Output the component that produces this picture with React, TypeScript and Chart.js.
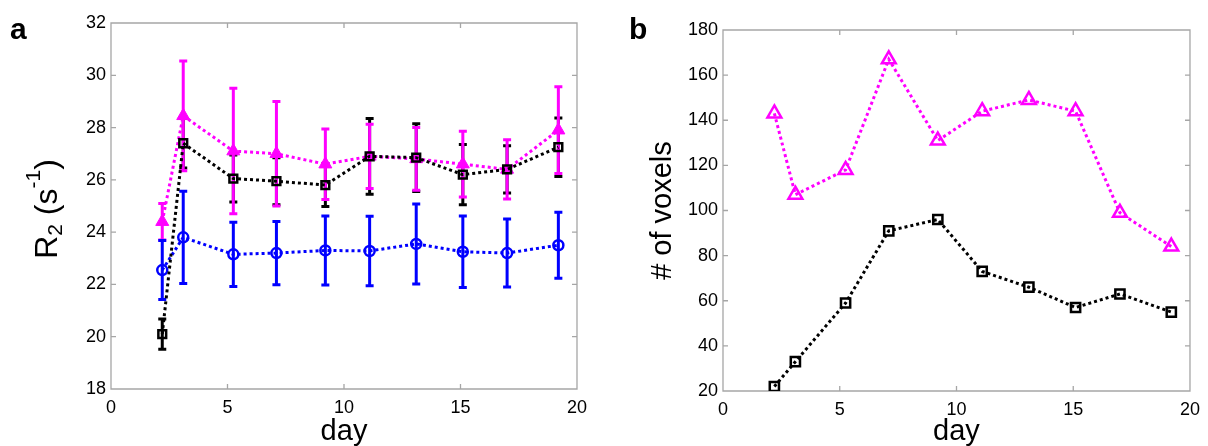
import React, { useEffect, useRef } from 'react';
import { Chart, registerables } from 'chart.js';

Chart.register(...registerables);

// ---------- data ----------
const days = [2.2, 3.1, 5.25, 7.1, 9.2, 11.1, 13.1, 15.1, 17.0, 19.2];

// panel a: R2 (s^-1)
const r2Magenta = [24.4, 28.45, 27.1, 27.0, 26.6, 26.9, 26.8, 26.6, 26.4, 27.9];
const r2MagentaErr = [0.7, 2.1, 2.4, 2.0, 1.35, 1.23, 1.2, 1.26, 1.13, 1.66];
const r2Black = [20.1, 27.4, 26.05, 25.95, 25.8, 26.9, 26.85, 26.2, 26.4, 27.25];
const r2BlackErr = [0.58, 0.95, 0.9, 0.9, 0.82, 1.45, 1.3, 1.15, 0.9, 1.12];
const r2Blue = [22.55, 23.8, 23.15, 23.2, 23.3, 23.28, 23.55, 23.25, 23.2, 23.5];
const r2BlueErr = [1.13, 1.76, 1.23, 1.21, 1.32, 1.33, 1.53, 1.37, 1.3, 1.26];

// panel b: # of voxels
const voxMagenta = [143, 107, 118, 167, 131, 144, 149, 144, 99, 84];
const voxBlack = [22, 33, 59, 91, 96, 73, 66, 57, 63, 55];

// ticks
const dayTicks = [0, 5, 10, 15, 20];
const r2Ticks = [18, 20, 22, 24, 26, 28, 30, 32];
const voxTicks = [20, 40, 60, 80, 100, 120, 140, 160, 180];

// ---------- styling ----------
const FONT = '"Liberation Sans", Arial, Helvetica, sans-serif';
const MAGENTA = '#ff00ff';
const BLUE = '#0000ff';
const BLACK = '#000000';

const pts = (ys: number[]) => ys.map((y, i) => ({ x: days[i], y }));

const boxTicksPlugin = {
  id: 'boxTicks',
  beforeDatasetsDraw(chart: any) {
    const { ctx, chartArea: a, scales } = chart;
    const len = 5;
    ctx.save();
    ctx.strokeStyle = '#a6a6a6';
    ctx.lineWidth = 1.3;
    ctx.beginPath();
    ctx.rect(a.left, a.top, a.right - a.left, a.bottom - a.top);
    scales.x.ticks.forEach((t: any) => {
      const px = scales.x.getPixelForValue(t.value);
      if (px <= a.left + 1 || px >= a.right - 1) return;
      ctx.moveTo(px, a.bottom);
      ctx.lineTo(px, a.bottom - len);
      ctx.moveTo(px, a.top);
      ctx.lineTo(px, a.top + len);
    });
    scales.y.ticks.forEach((t: any) => {
      const py = scales.y.getPixelForValue(t.value);
      if (py <= a.top + 1 || py >= a.bottom - 1) return;
      ctx.moveTo(a.left, py);
      ctx.lineTo(a.left + len, py);
      ctx.moveTo(a.right, py);
      ctx.lineTo(a.right - len, py);
    });
    ctx.stroke();
    ctx.restore();
  },
};

// error bars of all datasets, drawn under the lines, in the order given by errLayer
const errorBarPlugin = {
  id: 'errorBars',
  beforeDatasetsDraw(chart: any) {
    const yS = chart.scales.y;
    const ctx = chart.ctx;
    const list = chart.data.datasets
      .map((ds: any, i: number) => ({ ds, i }))
      .filter((o: any) => o.ds.errors)
      .sort((p: any, q: any) => (p.ds.errLayer || 0) - (q.ds.errLayer || 0));
    list.forEach(({ ds, i }: any) => {
      const meta = chart.getDatasetMeta(i);
      ctx.save();
      ctx.strokeStyle = ds.borderColor;
      ctx.lineWidth = 3;
      ctx.lineCap = 'butt';
      meta.data.forEach((el: any, k: number) => {
        const v = ds.data[k].y;
        const e = ds.errors[k];
        const top = yS.getPixelForValue(v + e);
        const bot = yS.getPixelForValue(v - e);
        ctx.beginPath();
        ctx.moveTo(el.x, top);
        ctx.lineTo(el.x, bot);
        ctx.moveTo(el.x - 4, top);
        ctx.lineTo(el.x + 4, top);
        ctx.moveTo(el.x - 4, bot);
        ctx.lineTo(el.x + 4, bot);
        ctx.stroke();
      });
      ctx.restore();
    });
  },
};

const panelLabelPlugin = {
  id: 'panelLabel',
  afterDraw(chart: any, _args: any, opts: any) {
    if (!opts || !opts.text) return;
    const ctx = chart.ctx;
    ctx.save();
    ctx.fillStyle = '#000';
    ctx.font = `bold 30px ${FONT}`;
    ctx.textAlign = 'left';
    ctx.textBaseline = 'alphabetic';
    ctx.fillText(opts.text, opts.x, opts.y);
    ctx.restore();
  },
};

// y-axis title with subscript / superscript: R₂ (s⁻¹)
const r2TitlePlugin = {
  id: 'r2Title',
  afterDraw(chart: any, _args: any, opts: any) {
    if (!opts || !opts.show) return;
    const ctx = chart.ctx;
    const a = chart.chartArea;
    const big = 32;
    const small = 21;
    const parts = [
      { t: 'R', s: big, dy: 0 },
      { t: '2', s: small, dy: 5 },
      { t: ' (s', s: big, dy: 0 },
      { t: '-1', s: small, dy: -17 },
      { t: ')', s: big, dy: 0 },
    ];
    ctx.save();
    ctx.fillStyle = '#000';
    ctx.textBaseline = 'alphabetic';
    ctx.textAlign = 'left';
    let total = 0;
    parts.forEach((p) => {
      ctx.font = `${p.s}px ${FONT}`;
      total += ctx.measureText(p.t).width;
    });
    ctx.translate(opts.x, (a.top + a.bottom) / 2 + 3);
    ctx.rotate(-Math.PI / 2);
    let cx = -total / 2;
    parts.forEach((p) => {
      ctx.font = `${p.s}px ${FONT}`;
      ctx.fillText(p.t, cx, p.dy);
      cx += ctx.measureText(p.t).width;
    });
    ctx.restore();
  },
};

function baseOptions(p: {
  yMin: number;
  yMax: number;
  yTicks: number[];
  yWidth: number;
  xHeight: number;
  padding: any;
  yTitle?: any;
  label: any;
  r2: boolean;
}) {
  return {
    responsive: false,
    animation: false,
    events: [],
    layout: { padding: p.padding },
    plugins: {
      legend: { display: false },
      tooltip: { enabled: false },
      panelLabel: p.label,
      r2Title: { show: p.r2, x: 57 },
    },
    scales: {
      x: {
        type: 'linear',
        min: 0,
        max: 20,
        afterBuildTicks: (s: any) => {
          s.ticks = dayTicks.map((v) => ({ value: v }));
        },
        afterFit: (s: any) => {
          s.height = p.xHeight;
        },
        grid: { display: false, drawTicks: false },
        border: { display: false },
        ticks: {
          padding: 8,
          color: '#000',
          font: { family: FONT, size: 18 },
          maxRotation: 0,
          autoSkip: false,
        },
        title: {
          display: true,
          text: 'day',
          color: '#000',
          font: { family: FONT, size: 29 },
          padding: { top: 0, bottom: -3 },
        },
      },
      y: {
        type: 'linear',
        min: p.yMin,
        max: p.yMax,
        afterBuildTicks: (s: any) => {
          s.ticks = p.yTicks.map((v) => ({ value: v }));
        },
        afterFit: (s: any) => {
          s.width = p.yWidth;
        },
        grid: { display: false, drawTicks: false },
        border: { display: false },
        ticks: {
          padding: 5,
          color: '#000',
          font: { family: FONT, size: 18 },
          autoSkip: false,
        },
        title: p.yTitle || { display: false },
      },
    },
  } as any;
}

export default function App() {
  const refA = useRef<HTMLCanvasElement>(null);
  const refB = useRef<HTMLCanvasElement>(null);

  useEffect(() => {
    const chartA = new Chart(refA.current as HTMLCanvasElement, {
      type: 'line',
      data: {
        datasets: [
          {
            data: pts(r2Black),
            errors: r2BlackErr,
            errLayer: 0,
            borderColor: BLACK,
            backgroundColor: 'rgba(0,0,0,0)',
            borderWidth: 3,
            borderDash: [3, 3],
            pointStyle: 'rect',
            pointRadius: 5.5,
            pointBorderWidth: 2.5,
            pointBorderColor: BLACK,
            pointBackgroundColor: 'rgba(0,0,0,0)',
          },
          {
            data: pts(r2Magenta),
            errors: r2MagentaErr,
            errLayer: 1,
            borderColor: MAGENTA,
            backgroundColor: MAGENTA,
            borderWidth: 3,
            borderDash: [3, 3],
            pointStyle: 'triangle',
            pointRadius: 7.5,
            pointBorderWidth: 1,
            pointBorderColor: MAGENTA,
            pointBackgroundColor: MAGENTA,
          },
          {
            data: pts(r2Blue),
            errors: r2BlueErr,
            errLayer: 2,
            borderColor: BLUE,
            backgroundColor: 'rgba(0,0,0,0)',
            borderWidth: 3,
            borderDash: [3, 3],
            pointStyle: 'circle',
            pointRadius: 5,
            pointBorderWidth: 2.5,
            pointBorderColor: BLUE,
            pointBackgroundColor: 'rgba(0,0,0,0)',
          },
        ] as any,
      },
      options: baseOptions({
        yMin: 18,
        yMax: 32,
        yTicks: r2Ticks,
        yWidth: 111,
        xHeight: 57,
        padding: { left: 0, right: 23, top: 23, bottom: 0 },
        label: { text: 'a', x: 10, y: 39 },
        r2: true,
      }),
      plugins: [boxTicksPlugin, errorBarPlugin, panelLabelPlugin, r2TitlePlugin],
    });

    const chartB = new Chart(refB.current as HTMLCanvasElement, {
      type: 'line',
      data: {
        datasets: [
          {
            data: pts(voxBlack),
            borderColor: BLACK,
            backgroundColor: 'rgba(0,0,0,0)',
            borderWidth: 3,
            borderDash: [3, 3],
            pointStyle: 'rect',
            pointRadius: 6.5,
            pointBorderWidth: 2.5,
            pointBorderColor: BLACK,
            pointBackgroundColor: 'rgba(0,0,0,0)',
          },
          {
            data: pts(voxMagenta),
            borderColor: MAGENTA,
            backgroundColor: 'rgba(0,0,0,0)',
            borderWidth: 3,
            borderDash: [3, 3],
            pointStyle: 'triangle',
            pointRadius: 8,
            pointBorderWidth: 2.5,
            pointBorderColor: MAGENTA,
            pointBackgroundColor: 'rgba(0,0,0,0)',
          },
        ] as any,
      },
      options: baseOptions({
        yMin: 20,
        yMax: 180,
        yTicks: voxTicks,
        yWidth: 123,
        xHeight: 55,
        padding: { left: 0, right: 15, top: 30, bottom: 0 },
        yTitle: {
          display: true,
          text: '# of voxels',
          color: '#000',
          font: { family: FONT, size: 29 },
          padding: { top: 46, bottom: 0 },
        },
        label: { text: 'b', x: 29, y: 39 },
        r2: false,
      }),
      plugins: [boxTicksPlugin, errorBarPlugin, panelLabelPlugin],
    });

    return () => {
      chartA.destroy();
      chartB.destroy();
    };
  }, []);

  return (
    <div
      style={{
        position: 'fixed',
        left: 0,
        top: 0,
        width: 1208,
        height: 446,
        background: '#fff',
      }}
    >
      <canvas
        ref={refA}
        width={600}
        height={446}
        style={{ position: 'absolute', left: 0, top: 0, width: 600, height: 446 }}
      />
      <canvas
        ref={refB}
        width={608}
        height={446}
        style={{ position: 'absolute', left: 600, top: 0, width: 608, height: 446 }}
      />
    </div>
  );
}
